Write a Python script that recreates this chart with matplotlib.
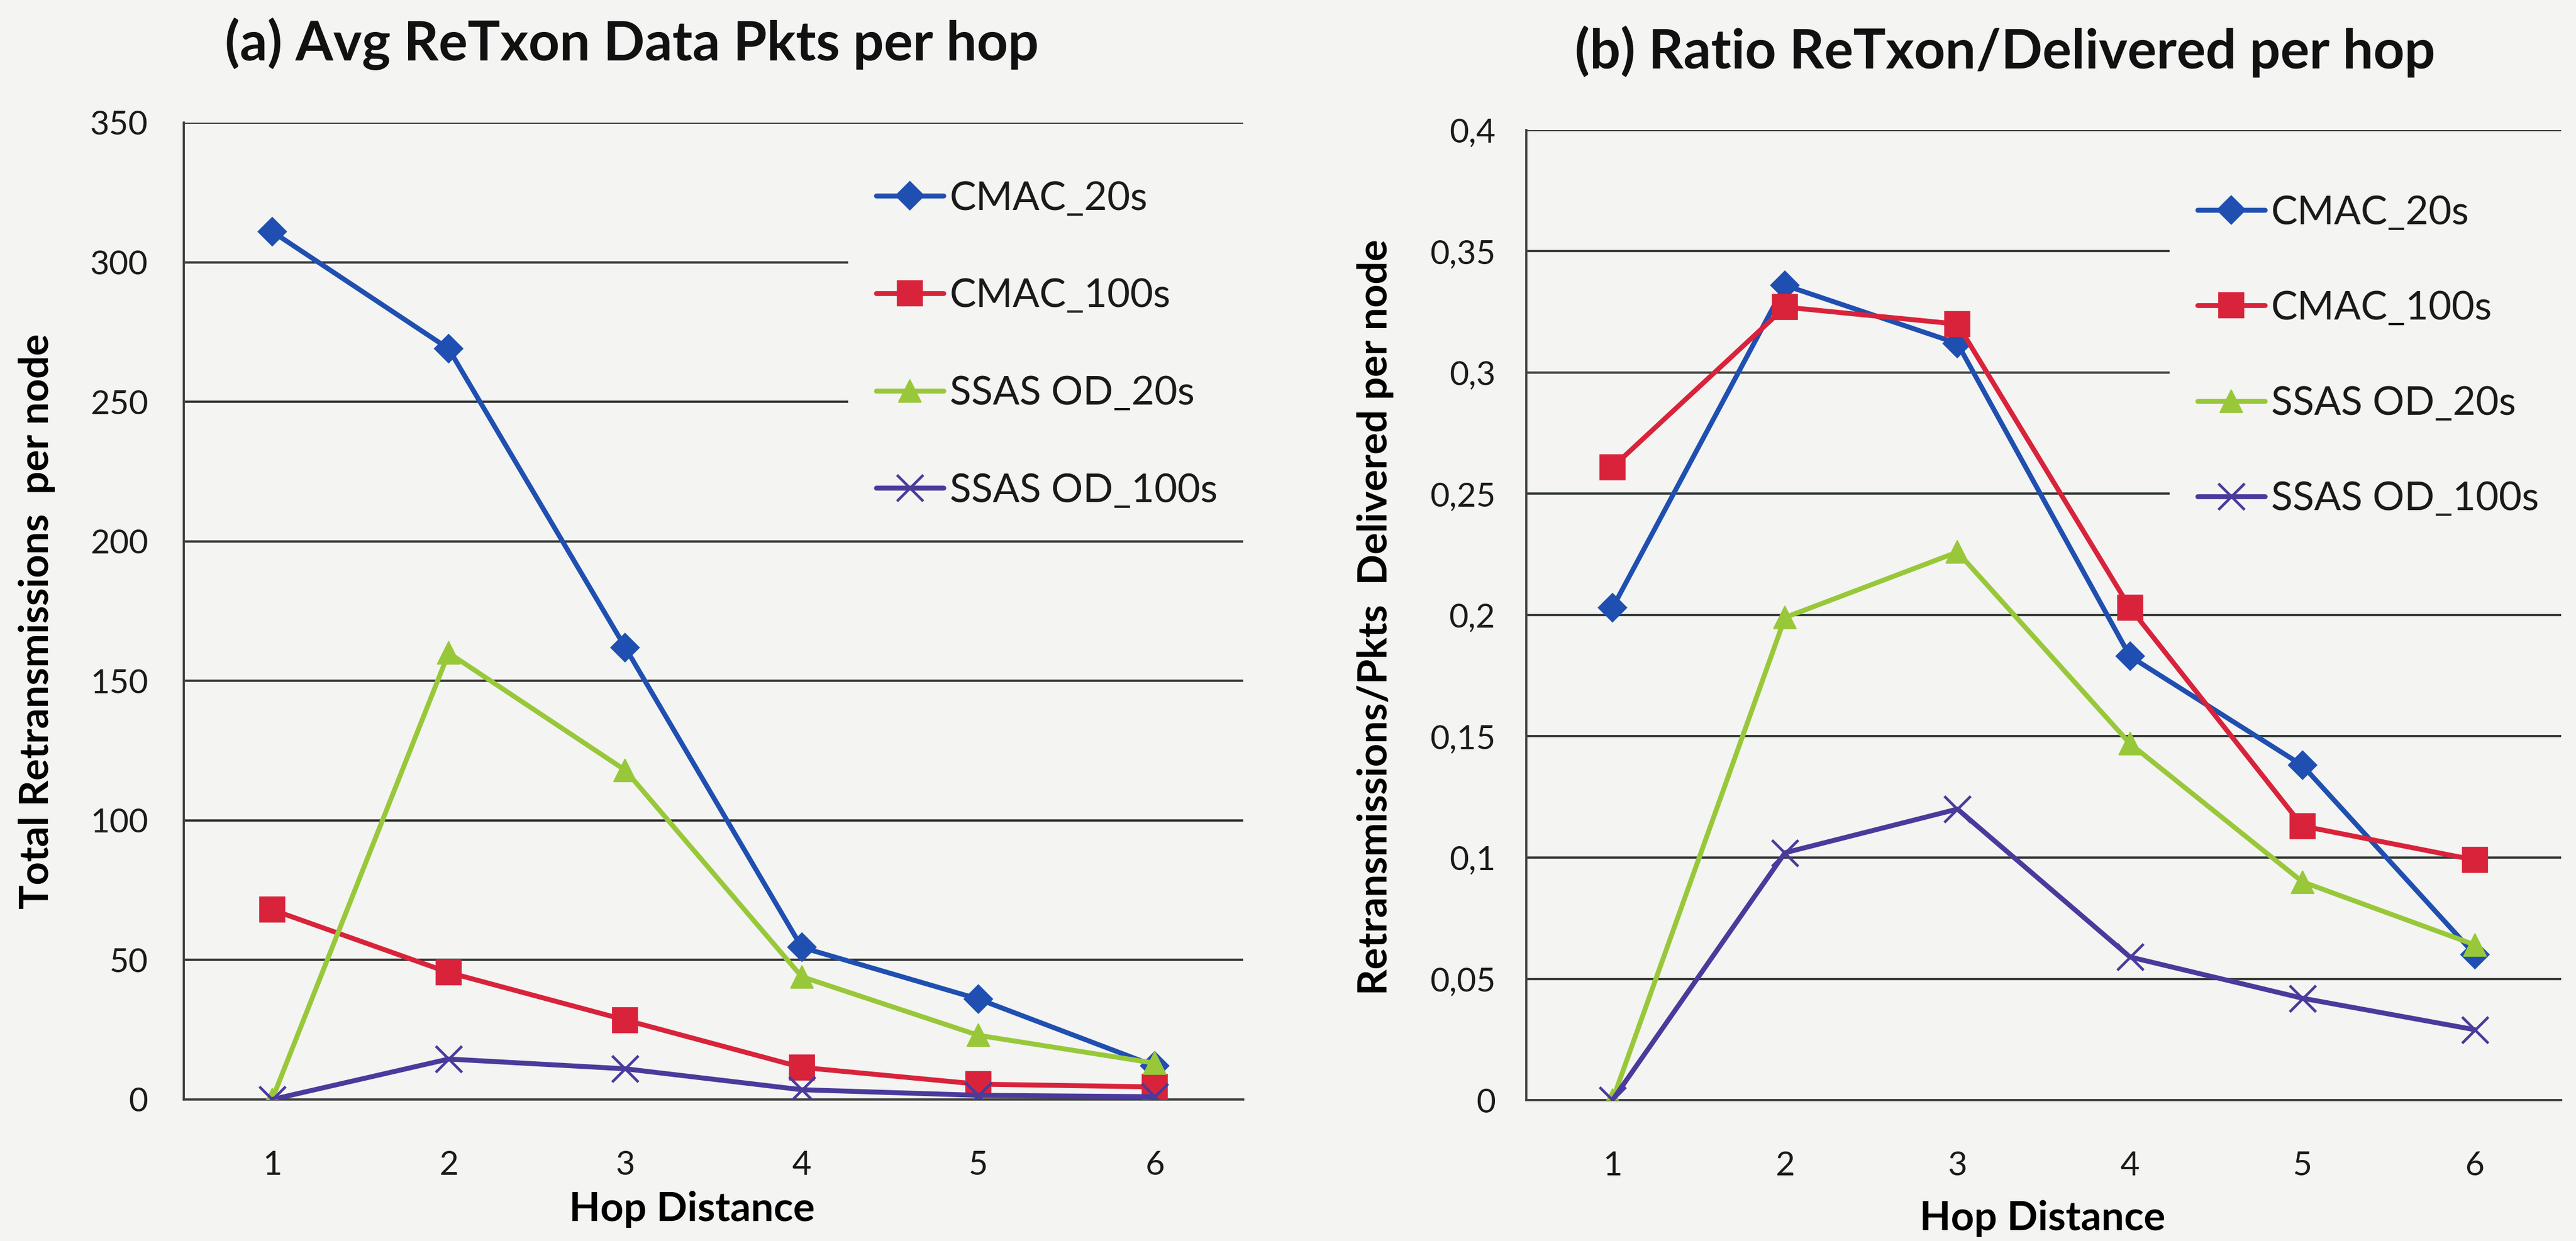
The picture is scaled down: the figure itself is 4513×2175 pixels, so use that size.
import matplotlib
matplotlib.use("Agg")
import matplotlib.pyplot as plt
from matplotlib.ticker import FuncFormatter, MultipleLocator

# ---- data -------------------------------------------------------------
hops = [1, 2, 3, 4, 5, 6]
series_names = ["CMAC_20s", "CMAC_100s", "SSAS OD_20s", "SSAS OD_100s"]

# (a) average retransmitted data packets per node, by hop distance
retx_cmac_20 = [311, 269, 162, 54.5, 36, 12]
retx_cmac_100 = [68, 45.5, 28.5, 11.5, 5.5, 4.5]
retx_ssas_20 = [0, 160, 118, 44, 23, 13]
retx_ssas_100 = [0, 14.5, 11, 3.5, 1.5, 1]

# (b) ratio retransmissions / delivered packets per node, by hop distance
ratio_cmac_20 = [0.203, 0.336, 0.312, 0.183, 0.138, 0.060]
ratio_cmac_100 = [0.261, 0.327, 0.320, 0.203, 0.113, 0.099]
ratio_ssas_20 = [0, 0.199, 0.226, 0.147, 0.090, 0.064]
ratio_ssas_100 = [0, 0.102, 0.120, 0.059, 0.042, 0.029]

title_a = "(a) Avg ReTxon Data Pkts per hop"
title_b = "(b) Ratio ReTxon/Delivered per hop"
ylabel_a = "Total Retransmissions  per node"
ylabel_b = "Retransmissions/Pkts  Delivered per node"
xlabel = "Hop Distance"

# ---- style ------------------------------------------------------------
W, H, DPI = 4513, 2175, 100
BG = "#f4f4f2"
plt.rcParams["font.family"] = ["Lato", "DejaVu Sans"]

styles = [
    dict(color="#1f4fb0", marker="D", ms=25),
    dict(color="#d8233b", marker="s", ms=31),
    dict(color="#98c83a", marker="^", ms=29),
    dict(color="#4a3a9c", marker="x", ms=33, mew=3.4),
]

fig = plt.figure(figsize=(W / DPI, H / DPI), dpi=DPI, facecolor=BG)


def px_rect(x0, y_top, x1, y_bottom):
    return [x0 / W, 1 - y_bottom / H, (x1 - x0) / W, (y_bottom - y_top) / H]


def comma_fmt(v, _pos):
    return f"{v:g}".replace(".", ",")


def make_panel(rect, series, ymax, ystep, grid_color, ypad, title, title_xy,
               ylab, ylab_xy, xlab_xy, leg_xy, leg_w, leg_spacing, fmt=None):
    ax = fig.add_axes(rect)
    ax.set_facecolor(BG)
    for name, vals, st in zip(series_names, series, styles):
        ax.plot(hops, vals, label=name, color=st["color"], marker=st["marker"],
                markersize=st["ms"], markeredgewidth=st.get("mew", 1.2),
                markeredgecolor=st["color"], markerfacecolor=st["color"],
                linewidth=6.2, solid_joinstyle="round", solid_capstyle="round",
                zorder=3)
    ax.set_xlim(0.5, 6.5)
    ax.set_ylim(0, ymax)
    ax.set_xticks(hops)
    ax.yaxis.set_major_locator(MultipleLocator(ystep))
    if fmt is not None:
        ax.yaxis.set_major_formatter(FuncFormatter(fmt))
    ax.yaxis.grid(True, color=grid_color, linewidth=2.8, zorder=1)
    ax.set_axisbelow(True)
    for side in ("top", "right"):
        ax.spines[side].set_visible(False)
    for side in ("left", "bottom"):
        ax.spines[side].set_color("#444444")
        ax.spines[side].set_linewidth(2.8)
    ax.tick_params(axis="both", length=0, labelsize=42, colors="#1a1a1a")
    ax.tick_params(axis="y", pad=ypad)
    ax.tick_params(axis="x", pad=64)

    ax.set_xlabel(xlabel, fontsize=51, fontweight="bold", va="center")
    ax.xaxis.set_label_coords(xlab_xy[0] / W, 1 - xlab_xy[1] / H,
                              transform=fig.transFigure)
    ax.set_ylabel(ylab, fontsize=51, fontweight="bold", va="center")
    ax.yaxis.set_label_coords(ylab_xy[0] / W, 1 - ylab_xy[1] / H,
                              transform=fig.transFigure)

    fig.text(title_xy[0] / W, 1 - title_xy[1] / H, title, fontsize=68.5,
             fontweight="bold", ha="center", va="center", color="#111111")

    leg = ax.legend(loc="upper left",
                    bbox_to_anchor=(leg_xy[0] / W, 1 - leg_xy[1] / H - 0.01,
                                    leg_w / W, 0.01),
                    bbox_transform=fig.transFigure, mode="expand",
                    borderaxespad=0, borderpad=0.7, fontsize=50,
                    handlelength=1.7, handletextpad=0.16,
                    labelspacing=leg_spacing, frameon=True, fancybox=False,
                    facecolor=BG, edgecolor="none", framealpha=1.0)
    leg.set_zorder(2)
    for t in leg.get_texts():
        t.set_color("#1a1a1a")
    return ax


make_panel(px_rect(322, 215, 2178, 1927),
           [retx_cmac_20, retx_cmac_100, retx_ssas_20, retx_ssas_100],
           350, 50, "#2e2e2e", 45, title_a, (1107, 77),
           ylabel_a, (65, 1089), (1212, 2120), (1486, 268), 720, 1.55)

make_panel(px_rect(2674, 228, 4487, 1928),
           [ratio_cmac_20, ratio_cmac_100, ratio_ssas_20, ratio_ssas_100],
           0.4, 0.05, "#363c38", 39, title_b, (3513, 90),
           ylabel_b, (2409, 1082), (3578, 2136), (3801, 293), 710, 1.5,
           fmt=comma_fmt)

fig.savefig("out.png", dpi=DPI, facecolor=BG)
